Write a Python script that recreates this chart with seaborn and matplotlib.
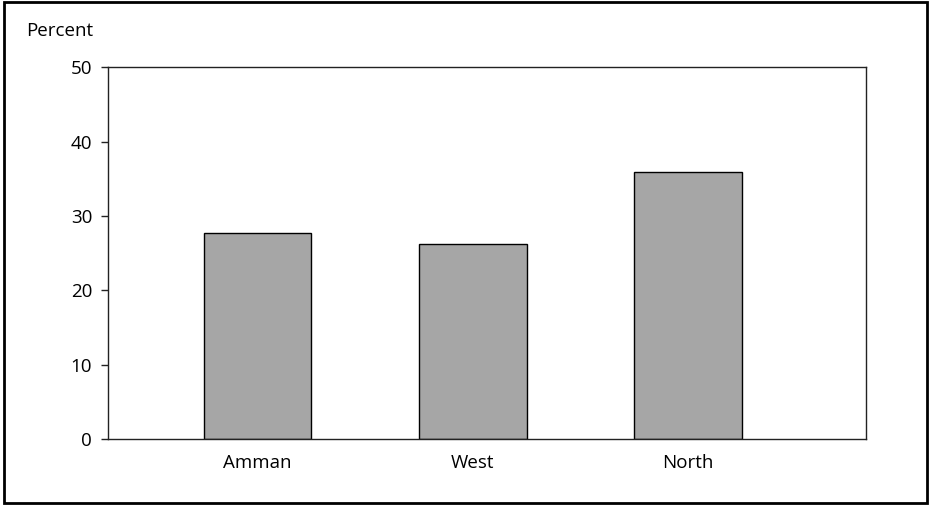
import matplotlib
matplotlib.use("Agg")
import matplotlib.pyplot as plt
import seaborn as sns
import pandas as pd
from matplotlib.patches import Rectangle

# data
regions = ["Amman", "West", "North"]
percent = [27.7, 26.2, 35.9]
yticks = [0, 10, 20, 30, 40, 50]

BAR_COLOR = "#A6A6A6"

sns.set_theme(style="white")
plt.rcParams["font.family"] = ["Open Sans", "DejaVu Sans"]
plt.rcParams["text.color"] = "black"

df = pd.DataFrame({"region": regions, "percent": percent})

fig = plt.figure(figsize=(9.3, 5.05), dpi=100)
ax = fig.add_axes([0.1156, 0.1307, 0.8153, 0.736])

sns.barplot(data=df, x="region", y="percent", color=BAR_COLOR, width=0.5,
            edgecolor="black", linewidth=1.0, saturation=1, ax=ax)

ax.set_xlim(-0.697, 2.826)
ax.set_ylim(0, 50)
ax.set_yticks(yticks)
ax.set_xlabel("")
ax.set_ylabel("")

for s in ax.spines.values():
    s.set_visible(True)
    s.set_color("#222222")
    s.set_linewidth(1.0)

ax.tick_params(axis="y", left=True, length=5, width=1, color="#222222",
               pad=6, labelsize=13.5, labelcolor="black")
ax.tick_params(axis="x", bottom=False, length=0, pad=11,
               labelsize=13.5, labelcolor="black")

fig.text(0.028, 0.939, "Percent", fontsize=13.5, color="black", ha="left", va="center")

# border around the whole figure
fig.patches.append(Rectangle((0.0045, 0.003), 0.9925, 0.993, transform=fig.transFigure,
                             fill=False, edgecolor="black", linewidth=2.0))

fig.savefig("out.png", dpi=100)
